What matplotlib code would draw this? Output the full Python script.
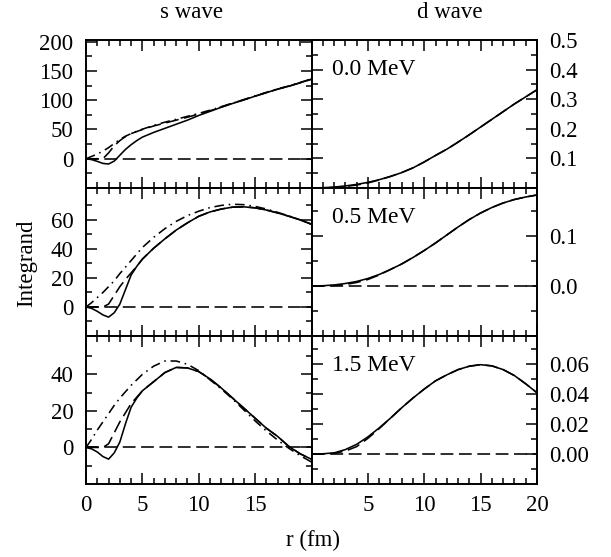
import matplotlib
matplotlib.use("Agg")
from matplotlib import pyplot as plt
from matplotlib.ticker import MultipleLocator, FixedLocator

plt.rcParams["font.family"] = ["Liberation Serif", "DejaVu Serif"]

# s wave, r grid
r_s = [0, 0.5, 1, 1.5, 2, 2.5, 3, 3.5, 4, 4.5, 5, 6, 7, 8, 9, 10, 11, 12, 13, 14, 15, 16, 17, 18, 19, 20]

# 0.0 MeV
s0_solid = [0, -1.5, -4.5, -8, -9, -4, 6, 16, 24, 31, 37, 45, 52, 59, 66, 74, 81, 88, 94.5, 100.5, 107, 113, 119, 124, 130, 136]
s0_dash = [0, 0, 0, 0, 10, 22, 31, 38, 43, 46.5, 50, 56, 61, 66, 71, 76.5, 82, 88.5, 95, 101, 107, 113, 119, 124, 130, 136]
s0_dashdot = [0, 4, 8, 13, 19, 26, 33, 38.5, 43, 47, 50.5, 57, 62.5, 67.5, 72.5, 77.5, 83, 89, 95, 101, 107.5, 113.5, 119.5, 124.5, 130.5, 136.5]

# 0.5 MeV
s5_solid = [0, -1, -3, -5.5, -7, -4, 2, 12, 22, 28, 33, 40.5, 47, 53, 58, 62.5, 65.5, 67.5, 68.8, 69, 68.3, 66.8, 64.8, 62.5, 60, 57]
s5_dash = [0, 0, 0, 0, 2, 8, 14, 19, 23.5, 28, 33, 40.5, 47, 53, 58, 62.5, 65.5, 67.5, 68.8, 69, 68.3, 66.8, 64.8, 62.5, 60, 57]
s5_dashdot = [0, 3, 6.5, 10, 14, 18, 23, 27.5, 32, 36.5, 41, 48, 54, 59, 63, 66, 68.5, 70, 70.8, 70.5, 69.3, 67.5, 65.2, 62.7, 60, 57]

# 1.5 MeV
s15_solid = [0, -0.8, -2.5, -5, -6.4, -3, 3, 13, 22, 27, 31, 36, 41, 43.8, 43.5, 41.5, 37.5, 32.5, 27, 21.5, 16, 10.5, 6, 0.5, -3.5, -6.5]
s15_dash = [0, 0, 0, 0, 2, 8, 14, 19, 24, 27.5, 31, 36, 41, 43.8, 43.5, 41.5, 37.5, 32.5, 27, 21.5, 16, 10.5, 6, 0.5, -3.5, -6.5]
s15_dashdot = [0, 4.5, 9.5, 14, 18.5, 23, 27, 30.5, 34, 37, 40, 44.5, 47.3, 47.3, 45.5, 42, 37, 32, 26.5, 20.5, 14.5, 9, 4, -0.5, -4.5, -8]

# d wave, r grid
r_d = [0, 1, 2, 3, 4, 5, 6, 7, 8, 9, 10, 11, 12, 13, 14, 15, 16, 17, 18, 19, 20]

d0_solid = [0, 0.001, 0.003, 0.007, 0.012, 0.019, 0.028, 0.039, 0.052, 0.068, 0.088, 0.11, 0.131, 0.155, 0.18, 0.206, 0.232, 0.258, 0.284, 0.308, 0.332]
d0_dash = [0, 0.0005, 0.002, 0.005, 0.010, 0.017, 0.027, 0.039, 0.052, 0.068, 0.088, 0.11, 0.131, 0.155, 0.18, 0.206, 0.232, 0.258, 0.284, 0.308, 0.332]

d5_solid = [0, 0.0005, 0.002, 0.005, 0.009, 0.015, 0.023, 0.033, 0.044, 0.057, 0.071, 0.086, 0.102, 0.118, 0.133, 0.146, 0.157, 0.166, 0.173, 0.178, 0.182]
d5_dash = [0, 0.0002, 0.001, 0.003, 0.007, 0.013, 0.022, 0.033, 0.044, 0.057, 0.071, 0.086, 0.102, 0.118, 0.133, 0.146, 0.157, 0.166, 0.173, 0.178, 0.182]

d15_solid = [0, 0.0002, 0.0008, 0.003, 0.0065, 0.0115, 0.0175, 0.024, 0.031, 0.0375, 0.0435, 0.049, 0.053, 0.0565, 0.0588, 0.0598, 0.059, 0.0565, 0.0525, 0.047, 0.041]
d15_dash = [0, 0.0001, 0.0005, 0.002, 0.005, 0.0105, 0.017, 0.024, 0.031, 0.0375, 0.0435, 0.049, 0.053, 0.0565, 0.0588, 0.0598, 0.059, 0.0565, 0.0525, 0.047, 0.041]

energies = ["0.0 MeV", "0.5 MeV", "1.5 MeV"]

s_curves = [(s0_solid, s0_dash, s0_dashdot), (s5_solid, s5_dash, s5_dashdot), (s15_solid, s15_dash, s15_dashdot)]
d_curves = [(d0_solid, d0_dash), (d5_solid, d5_dash), (d15_solid, d15_dash)]

s_ylims = [(-50, 203), (-20, 82), (-20, 61)]
s_major = [[0, 50, 100, 150, 200], [0, 20, 40, 60], [0, 20, 40]]
s_minor = [[-25, 25, 75, 125, 175], [-10, 10, 30, 50, 70], [-10, 10, 30, 50]]
s_labels = [["0", "50", "100", "150", "200"], ["0", "20", "40", "60"], ["0", "20", "40"]]

d_ylims = [(0, 0.5), (-0.1, 0.196), (-0.02, 0.079)]
d_major = [[0.1, 0.2, 0.3, 0.4, 0.5], [0.0, 0.1], [0.0, 0.02, 0.04, 0.06]]
d_minor = [[0.05, 0.15, 0.25, 0.35, 0.45], [-0.05, 0.05, 0.15], [-0.01, 0.01, 0.03, 0.05, 0.07]]
d_labels = [["0.1", "0.2", "0.3", "0.4", "0.5"], ["0.0", "0.1"], ["0.00", "0.02", "0.04", "0.06"]]

fig, axes = plt.subplots(3, 2, figsize=(6.11, 5.57), dpi=100)
plt.subplots_adjust(left=0.1408, right=0.8789, top=0.9282, bottom=0.1311, hspace=0, wspace=0)

lw = 1.15
dash = (0, (8, 3.5))
dashdot = (0, (6, 3, 1, 3))

def style(ax):
    ax.set_xlim(0, 20)
    ax.xaxis.set_major_locator(MultipleLocator(5))
    ax.xaxis.set_minor_locator(MultipleLocator(1))
    ax.tick_params(which="both", direction="in", top=True, bottom=True, left=True, right=True,
                   labelsize=16.5, width=1.1)
    ax.tick_params(which="major", length=8)
    ax.tick_params(which="minor", length=4.5)
    ax.tick_params(axis="x", pad=8)
    ax.tick_params(axis="y", pad=9)
    for sp in ax.spines.values():
        sp.set_linewidth(1.4)

for i in range(3):
    ax = axes[i, 0]
    solid, dsh, dd = s_curves[i]
    ax.plot(r_s, solid, color="black", lw=lw)
    ax.plot(r_s, dsh, color="black", lw=lw, linestyle=dash)
    ax.plot(r_s, dd, color="black", lw=lw, linestyle=dashdot)
    ax.axhline(0, color="black", lw=lw, linestyle=dash)
    style(ax)
    ax.set_ylim(*s_ylims[i])
    ax.yaxis.set_major_locator(FixedLocator(s_major[i]))
    ax.yaxis.set_minor_locator(FixedLocator(s_minor[i]))
    ax.set_yticklabels(s_labels[i])
    if i < 2:
        ax.set_xticklabels([])
    else:
        ax.set_xticks([0, 5, 10, 15])
        ax.set_xticklabels(["0", "5", "10", "15"])

    ax = axes[i, 1]
    solid, dsh = d_curves[i]
    ax.plot(r_d, solid, color="black", lw=lw)
    ax.plot(r_d, dsh, color="black", lw=lw, linestyle=dash)
    if i > 0:
        ax.axhline(0, color="black", lw=lw, linestyle=dash)
    style(ax)
    ax.set_ylim(*d_ylims[i])
    ax.yaxis.set_major_locator(FixedLocator(d_major[i]))
    ax.yaxis.set_minor_locator(FixedLocator(d_minor[i]))
    ax.tick_params(axis="y", labelleft=False, labelright=True)
    ax.set_yticklabels(d_labels[i])
    if i < 2:
        ax.set_xticklabels([])
    else:
        ax.set_xticks([5, 10, 15, 20])
        ax.set_xticklabels(["5", "10", "15", "20"])
    ax.text(0.09, 0.80, energies[i], transform=ax.transAxes, fontsize=17, va="center", ha="left")

fig.text(192 / 611, 1 - 13 / 557, "s wave", fontsize=16.5, ha="center", va="center")
fig.text(450 / 611, 1 - 13 / 557, "d wave", fontsize=16.5, ha="center", va="center")
fig.text(313 / 611, 1 - 540 / 557, "r (fm)", fontsize=16.5, ha="center", va="center")
fig.text(27 / 611, 1 - 263 / 557, "Integrand", fontsize=16.5, ha="center", va="center", rotation=90)

plt.savefig("out.png", dpi=100)
